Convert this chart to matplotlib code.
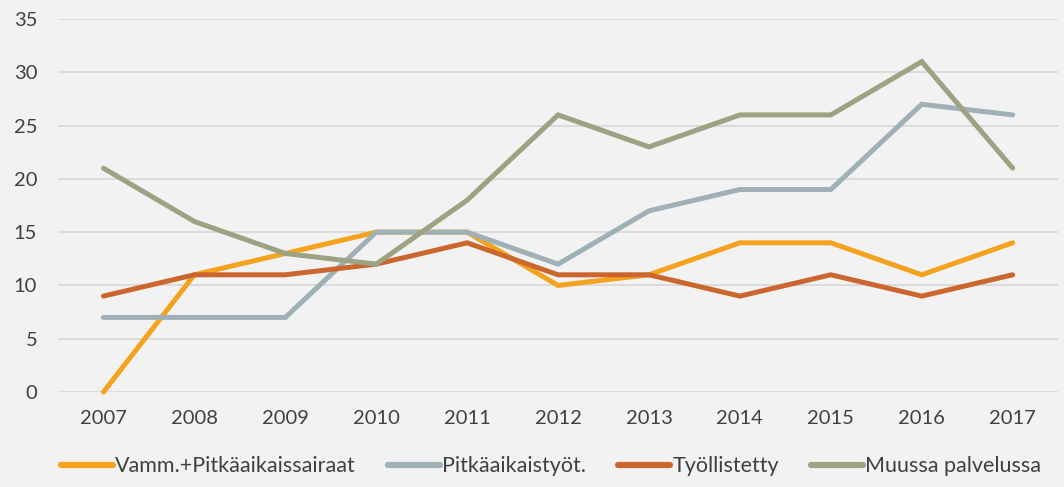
import matplotlib
matplotlib.use("Agg")
import matplotlib.pyplot as plt

years = ["2007", "2008", "2009", "2010", "2011", "2012", "2013", "2014", "2015", "2016", "2017"]
vamm = [0, 11, 13, 15, 15, 10, 11, 14, 14, 11, 14]
pitkatyot = [7, 7, 7, 15, 15, 12, 17, 19, 19, 27, 26]
tyollistetty = [9, 11, 11, 12, 14, 11, 11, 9, 11, 9, 11]
muussa = [21, 16, 13, 12, 18, 26, 23, 26, 26, 31, 21]

series = [
    ("Vamm.+Pitkäaikaissairaat", vamm, "#F5A31F"),
    ("Pitkäaikaistyöt.", pitkatyot, "#9FB1B7"),
    ("Työllistetty", tyollistetty, "#CB672E"),
    ("Muussa palvelussa", muussa, "#9BA382"),
]

plt.rcParams["font.family"] = ["Lato", "DejaVu Sans"]
bg = "#F2F2F2"
textColor = "#404040"

fig = plt.figure(figsize=(10.64, 4.87), dpi=100, facecolor=bg)
ax = fig.add_axes([0.0545, 0.195, 0.94, 0.766])
ax.set_facecolor(bg)

x = list(range(len(years)))
for label, values, color in series:
    ax.plot(x, values, color=color, linewidth=3.6, solid_capstyle="round",
            solid_joinstyle="miter", label=label, clip_on=False)

ax.set_xlim(-0.5, len(years) - 0.5)
ax.set_ylim(0, 35)
ax.set_yticks(range(0, 36, 5))
ax.set_xticks(x)
ax.set_xticklabels(years)
ax.yaxis.grid(True, color="#D9D9D9", linewidth=1.3)
ax.set_axisbelow(True)
ax.tick_params(length=0, labelsize=14.5, colors=textColor)
ax.tick_params(axis="x", pad=13)
ax.tick_params(axis="y", pad=15)
for spine in ax.spines.values():
    spine.set_visible(False)

leg = fig.legend(loc="lower center", bbox_to_anchor=(0.518, -0.018), ncol=4, frameon=False,
                 fontsize=15.5, handlelength=2.4, handletextpad=0.1, columnspacing=1.5)
for line in leg.get_lines():
    line.set_linewidth(4.5)
for text in leg.get_texts():
    text.set_color(textColor)

fig.savefig("out.png", dpi=100, facecolor=bg)
